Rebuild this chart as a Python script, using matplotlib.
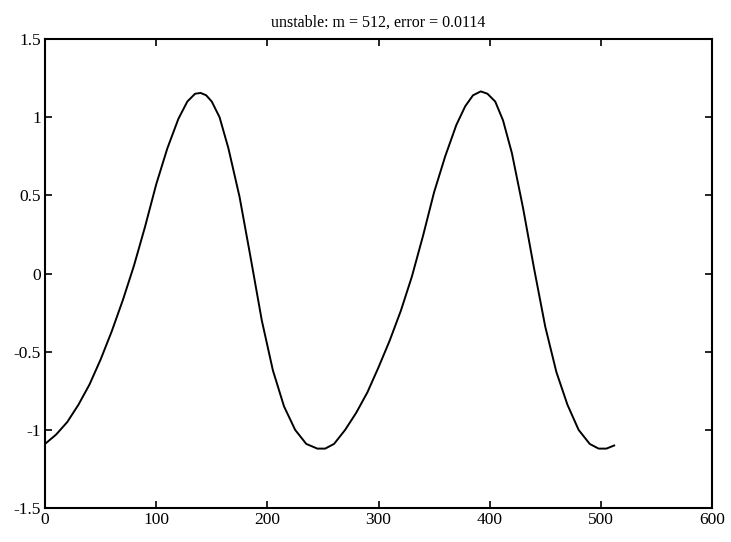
import matplotlib
matplotlib.use("Agg")
import matplotlib.pyplot as plt

# values
x = [0, 10, 20, 30, 40, 50, 60, 70, 80, 90, 100, 110, 120, 128, 135, 140,
     145, 150, 157, 165, 175, 185, 195, 205, 215, 225, 235, 245, 252, 260,
     270, 280, 290, 300, 310, 320, 330, 340, 350, 360, 370, 378, 385, 392,
     398, 405, 412, 420, 430, 440, 450, 460, 470, 480, 490, 498, 505, 512]
y = [-1.09, -1.03, -0.95, -0.84, -0.71, -0.55, -0.37, -0.17, 0.05, 0.30,
     0.57, 0.80, 0.99, 1.10, 1.15, 1.155, 1.14, 1.10, 1.00, 0.80, 0.49,
     0.10, -0.30, -0.62, -0.85, -1.00, -1.09, -1.12, -1.12, -1.09,
     -1.00, -0.89, -0.76, -0.60, -0.43, -0.24, -0.02, 0.24, 0.52, 0.75,
     0.95, 1.07, 1.14, 1.165, 1.15, 1.10, 0.98, 0.77, 0.42, 0.03, -0.34,
     -0.63, -0.84, -1.00, -1.09, -1.12, -1.12, -1.10]

xticks = [0, 100, 200, 300, 400, 500, 600]
yticks = [-1.5, -1, -0.5, 0, 0.5, 1, 1.5]
ytick_labels = ['-1.5', '-1', '-0.5', '0', '0.5', '1', '1.5']
title = 'unstable: m = 512, error = 0.0114'

plt.rcParams['font.family'] = ['Liberation Serif', 'DejaVu Serif']
plt.rcParams['axes.unicode_minus'] = False

fig = plt.figure(figsize=(7.31, 5.42), dpi=100)
ax = fig.add_axes([0.0616, 0.0627, 0.9124, 0.8653])

ax.plot(x, y, color='black', linewidth=1.4, solid_joinstyle='round')

ax.set_xlim(0, 600)
ax.set_ylim(-1.5, 1.5)
ax.set_xticks(xticks)
ax.set_xticklabels([str(t) for t in xticks])
ax.set_yticks(yticks)
ax.set_yticklabels(ytick_labels)
ax.tick_params(direction='in', length=5, width=1.2, top=True, right=True,
               labelsize=12.5, pad=3)
for s in ax.spines.values():
    s.set_linewidth(1.5)

ax.set_title(title, fontsize=11.5, pad=9)

fig.savefig('out.png', dpi=100)
